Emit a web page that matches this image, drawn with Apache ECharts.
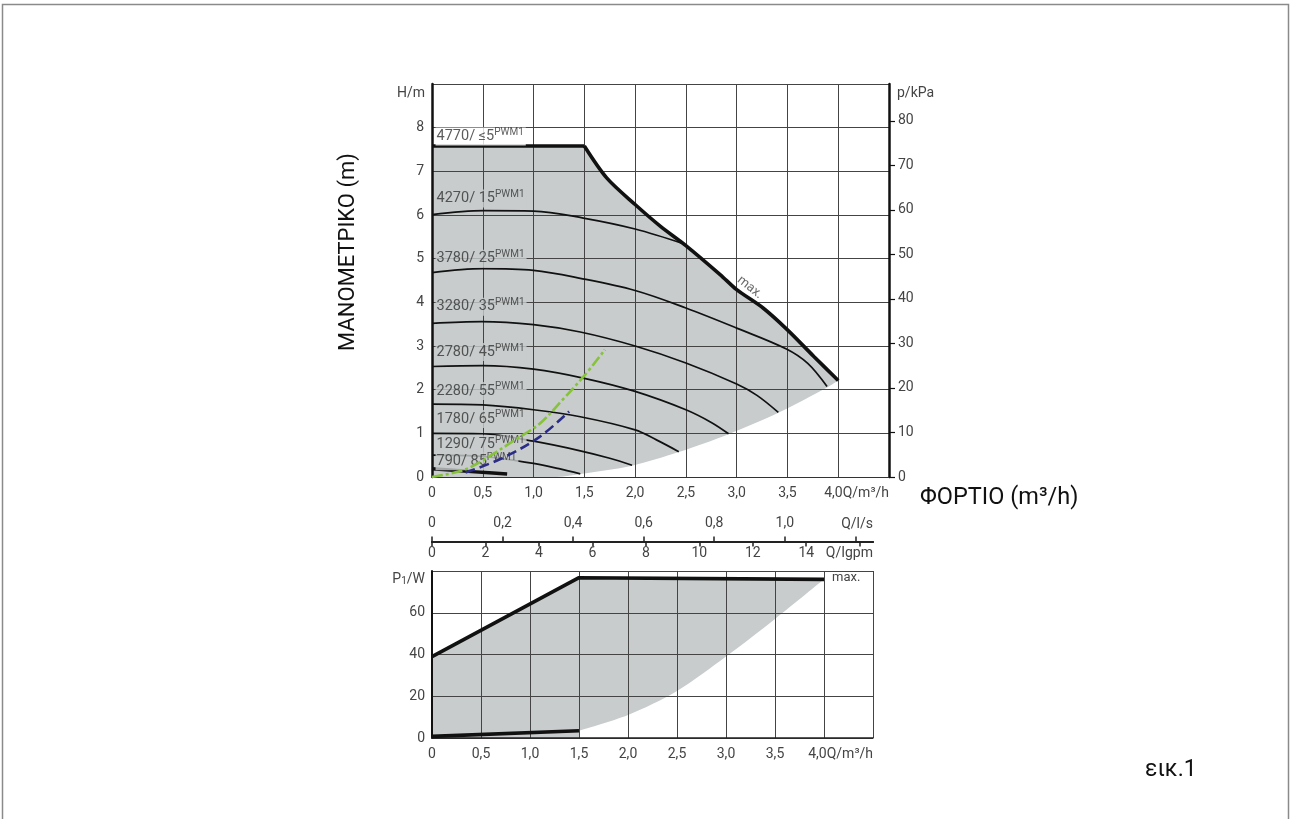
<!DOCTYPE html>
<html><head><meta charset="utf-8">
<script src="https://cdn.jsdelivr.net/npm/echarts@6/dist/echarts.min.js"></script>
<style>html,body{margin:0;padding:0;background:#fff}#c{width:1292px;height:819px}</style>
</head><body><div id="c"></div>
<script>
// ---- data ----
const hTicks = [0, 1, 2, 3, 4, 5, 6, 7, 8];
const pTicks = [0, 10, 20, 30, 40, 50, 60, 70, 80];
const lsTicks = [0, 0.2, 0.4, 0.6, 0.8, 1.0, 1.2];
const lsLabels = [0, 0.2, 0.4, 0.6, 0.8, 1.0];
const igpmTicks = [0, 2, 4, 6, 8, 10, 12, 14, 16];
const igpmLabels = [0, 2, 4, 6, 8, 10, 12, 14];
const wTicks = [0, 20, 40, 60];

const maxHead = [[0,7.58],[1.5,7.58],[1.72,6.85],[2.0,6.24],[2.25,5.74],[2.5,5.3],[2.84,4.63],[3.0,4.29],[3.26,3.87],[3.5,3.37],[3.76,2.76],[4.0,2.21]];
const lowerHead = [[0,0],[1.2,0],[1.46,0.07],[1.97,0.26],[2.43,0.57],[2.92,0.98],[3.41,1.47],[3.89,2.05],[4.0,2.21]];
const curve15 = [[0,6.01],[0.51,6.1],[1.0,6.09],[1.49,5.93],[2.0,5.68],[2.48,5.34]];
const curve25 = [[0,4.68],[0.5,4.77],[1.0,4.73],[1.46,4.55],[2.0,4.27],[2.5,3.87],[3.0,3.41],[3.49,2.93],[3.7,2.6],[3.89,2.07]];
const curve35 = [[0,3.52],[0.49,3.56],[1.0,3.49],[1.46,3.32],[2.0,3.0],[2.5,2.61],[3.0,2.13],[3.2,1.87],[3.41,1.48]];
const curve45 = [[0,2.53],[0.5,2.55],[1.0,2.47],[1.5,2.26],[2.0,1.96],[2.5,1.54],[2.75,1.25],[2.92,0.99]];
const curve55 = [[0,1.67],[0.5,1.65],[1.0,1.54],[1.46,1.38],[2.0,1.08],[2.21,0.85],[2.43,0.58]];
const curve65 = [[0,1.0],[0.5,0.99],[1.0,0.82],[1.46,0.6],[1.75,0.43],[1.97,0.27]];
const curve75 = [[0,0.5],[0.5,0.47],[1.0,0.31],[1.25,0.19],[1.46,0.07]];
const curve85 = [[0,0.19],[0.74,0.07]];
const systemGreen = [[0,0],[0.3,0.15],[0.5,0.38],[0.83,0.87],[1.06,1.22],[1.29,1.78],[1.5,2.32],[1.7,2.91]];
const systemBlue = [[0.33,0.1],[0.69,0.43],[1.06,0.92],[1.35,1.5]];

const curveNames = ['4770/ ≤5','4270/ 15','3780/ 25','3280/ 35','2780/ 45','2280/ 55','1780/ 65','1290/ 75','790/ 85'];
const curveLabelH = [7.8, 6.38, 5.0, 3.9, 2.86, 1.97, 1.33, 0.75, 0.36];

const powerMax = [[0,39],[1.5,76.8],[4.0,76]];
const powerMin = [[0,0.8],[1.5,3.5]];
const powerLower = [[1.5,3.5],[2.0,11],[2.5,22.5],[3.0,39],[3.5,57],[4.0,76]];

// ---- styles ----
const FILL = '#c8cccc';
const GRID = '#444';
const TXT = '#444';
const FONT = 'Roboto';
const TS = 14;
const fmtC = v => v === 0 ? '0' : v.toFixed(1).replace('.', ',');

const chart = echarts.init(document.getElementById('c'), null, {renderer: 'canvas'});

function curve(data, w, extra) {
  return Object.assign({type:'line', xAxisIndex:0, yAxisIndex:0, data, symbol:'none', smooth:0.35,
    lineStyle:{color:'#111', width:w}, z:4, silent:true}, extra || {});
}

const option = {
  animation: false,
  textStyle: {fontFamily: FONT},
  grid: [
    {left:432, top:84, width:457, height:393},
    {left:432, top:540.5, width:441, height:1},
    {left:432, top:571, width:441, height:167}
  ],
  xAxis: [
    {gridIndex:0, type:'value', min:0, max:4.5, interval:0.5, z:3,
     axisLine:{show:true, lineStyle:{color:'#333', width:1}}, axisTick:{show:false},
     axisLabel:{color:TXT, fontSize:TS, margin:9, formatter: v => v >= 4 ? '' : fmtC(v)},
     splitLine:{show:true, lineStyle:{color:GRID, width:1}},
     name:'4,0Q/m³/h', nameLocation:'end', nameGap:0,
     nameTextStyle:{color:TXT, fontSize:TS, align:'right', verticalAlign:'top', padding:[9,0,0,0]}},
    {gridIndex:1, type:'value', position:'top', min:0, max:1.25, z:3,
     axisLine:{show:true, lineStyle:{color:'#222', width:2}},
     axisTick:{show:true, length:5, customValues: lsTicks, lineStyle:{color:'#222', width:1.5}},
     axisLabel:{color:TXT, fontSize:TS, margin:10, customValues: lsLabels, formatter: fmtC},
     splitLine:{show:false},
     name:'Q/l/s', nameLocation:'end', nameGap:0,
     nameTextStyle:{color:TXT, fontSize:TS, align:'right', verticalAlign:'bottom', padding:[0,0,10,0]}},
    {gridIndex:1, type:'value', position:'bottom', min:0, max:16.497, z:3,
     axisLine:{show:true, lineStyle:{color:'#222', width:2}},
     axisTick:{show:true, length:5, customValues: igpmTicks, lineStyle:{color:'#222', width:1.5}},
     axisLabel:{color:TXT, fontSize:TS, margin:5, customValues: igpmLabels},
     splitLine:{show:false},
     name:'Q/Igpm', nameLocation:'end', nameGap:0,
     nameTextStyle:{color:TXT, fontSize:TS, align:'right', verticalAlign:'top', padding:[5,0,0,0]}},
    {gridIndex:2, type:'value', min:0, max:4.5, interval:0.5, z:3,
     axisLine:{show:true, lineStyle:{color:'#222', width:1.5}}, axisTick:{show:false},
     axisLabel:{color:TXT, fontSize:TS, margin:9, formatter: v => v >= 4 ? '' : fmtC(v)},
     splitLine:{show:true, lineStyle:{color:GRID, width:1}},
     name:'4,0Q/m³/h', nameLocation:'end', nameGap:0,
     nameTextStyle:{color:TXT, fontSize:TS, align:'right', verticalAlign:'top', padding:[9,0,0,0]}}
  ],
  yAxis: [
    {gridIndex:0, type:'value', min:0, max:9, interval:1, z:3,
     axisLine:{show:true, lineStyle:{color:'#111', width:2.5}}, axisTick:{show:false},
     axisLabel:{color:TXT, fontSize:TS, margin:8, customValues: hTicks},
     splitLine:{show:true, lineStyle:{color:GRID, width:1}},
     name:'H/m', nameLocation:'end', nameGap:-9,
     nameTextStyle:{color:TXT, fontSize:TS, align:'right', verticalAlign:'middle', padding:[0,7,0,0]}},
    {gridIndex:0, type:'value', position:'right', min:0, max:88.29, z:3,
     axisLine:{show:true, lineStyle:{color:'#111', width:2.5}},
     axisTick:{show:true, length:6, customValues: pTicks, lineStyle:{color:'#111', width:1.2}},
     axisLabel:{color:TXT, fontSize:TS, margin:9, customValues: pTicks},
     splitLine:{show:false},
     name:'p/kPa', nameLocation:'end', nameGap:-9,
     nameTextStyle:{color:TXT, fontSize:TS, align:'left', verticalAlign:'middle', padding:[0,0,0,8]}},
    {gridIndex:1, type:'value', min:0, max:1, show:false},
    {gridIndex:2, type:'value', min:0, max:80, interval:20, z:3,
     axisLine:{show:true, lineStyle:{color:'#111', width:2}}, axisTick:{show:false},
     axisLabel:{color:TXT, fontSize:TS, margin:7, customValues: wTicks},
     splitLine:{show:true, lineStyle:{color:GRID, width:1}},
     name:'{a|P}{s|1}{a|/W}', nameLocation:'end', nameGap:-8,
     nameTextStyle:{color:TXT, fontSize:TS, align:'right', verticalAlign:'middle', padding:[0,7,0,0],
       rich:{a:{fontSize:TS, color:TXT}, s:{fontSize:10, color:TXT, verticalAlign:'bottom', lineHeight:10, padding:[7,0,0,0]}}}}
  ],
  series: [
    // shaded operating range (top)
    {type:'line', xAxisIndex:0, yAxisIndex:0, data:maxHead, symbol:'none', lineStyle:{width:0},
     areaStyle:{color:FILL, opacity:1}, z:1, silent:true},
    {type:'line', xAxisIndex:0, yAxisIndex:0, data:lowerHead, symbol:'none', smooth:0.3, lineStyle:{width:0},
     areaStyle:{color:'#fff', opacity:1}, z:2, silent:true},
    curve(curve15, 1.7), curve(curve25, 1.7), curve(curve35, 1.7), curve(curve45, 1.7),
    curve(curve55, 1.7), curve(curve65, 1.7), curve(curve75, 1.7), curve(curve85, 3.4, {smooth:false}),
    curve(maxHead.slice(0, 2), 3.6, {smooth:false}),
    curve(maxHead.slice(1), 3.6, {smooth:0.3}),
    // curve labels
    {type:'scatter', xAxisIndex:0, yAxisIndex:0, symbolSize:1, itemStyle:{color:'rgba(0,0,0,0)'}, z:6, silent:true,
     data: curveNames.map((n, i) => ({value:[0.03, curveLabelH[i]], name:n,
       label:{backgroundColor: i === 0 ? '#fff' : FILL}})),
     label:{show:true, position:'right', distance:0, padding:[0,2,0,1],
       formatter: p => '{a|' + p.name + '}{b|PWM1}',
       rich:{a:{fontSize:14.5, color:'#333', lineHeight:18},
             b:{fontSize:10, color:'#333', lineHeight:10, verticalAlign:'top'}}}},
    // system curves drawn above the labels
    {type:'line', xAxisIndex:0, yAxisIndex:0, data:systemGreen, symbol:'none', smooth:0.35, z:8,
     lineStyle:{color:'#86c23a', width:2.6, type:[11,3,3,3]}},
    {type:'line', xAxisIndex:0, yAxisIndex:0, data:systemBlue, symbol:'none', smooth:0.35, z:8,
     lineStyle:{color:'#2b2c86', width:2.6, type:[10,5]}},
    // "max." on the max curve
    {type:'scatter', xAxisIndex:0, yAxisIndex:0, symbolSize:1, itemStyle:{color:'rgba(0,0,0,0)'}, z:6, silent:true,
     data:[{value:[3.13, 4.34], name:'max.'}],
     label:{show:true, position:'inside', formatter:'{b}', rotate:-38, color:'#444', fontSize:13}},
    // power (bottom)
    {type:'line', xAxisIndex:3, yAxisIndex:3, data:powerMax, symbol:'none', lineStyle:{width:0},
     areaStyle:{color:FILL, opacity:1}, z:1, silent:true},
    {type:'line', xAxisIndex:3, yAxisIndex:3, data:powerLower, symbol:'none', smooth:0.3, lineStyle:{width:0},
     areaStyle:{color:'#fff', opacity:1}, z:2, silent:true},
    {type:'line', xAxisIndex:3, yAxisIndex:3, data:powerMax, symbol:'none', z:4,
     lineStyle:{color:'#111', width:3.6},
     endLabel:{show:true, formatter:'max.', color:'#444', fontSize:13, distance:8, offset:[0,-2]}},
    {type:'line', xAxisIndex:3, yAxisIndex:3, data:powerMin, symbol:'none', z:4,
     lineStyle:{color:'#111', width:3.6}}
  ],
  graphic: [
    {type:'rect', silent:true, z:100, shape:{x:2.5, y:4.5, width:1286, height:840},
     style:{fill:'none', stroke:'#8a8a8a', lineWidth:1.5}},
    {type:'text', silent:true, x:348, y:252, rotation:Math.PI/2,
     style:{text:'ΜΑΝΟΜΕΤΡΙΚΟ (m)', fontSize:22, fontFamily:FONT, fill:'#111', align:'center', verticalAlign:'middle'}},
    {type:'text', silent:true, x:920, y:498,
     style:{text:'ΦΟΡΤΙΟ (m³/h)', fontSize:23.5, fontFamily:FONT, fill:'#111', align:'left', verticalAlign:'middle'}},
    {type:'text', silent:true, x:1145, y:770,
     style:{text:'εικ.1', fontSize:23, fontFamily:FONT, fill:'#111', align:'left', verticalAlign:'middle'}}
  ]
};
chart.setOption(option);
</script>
</body></html>
